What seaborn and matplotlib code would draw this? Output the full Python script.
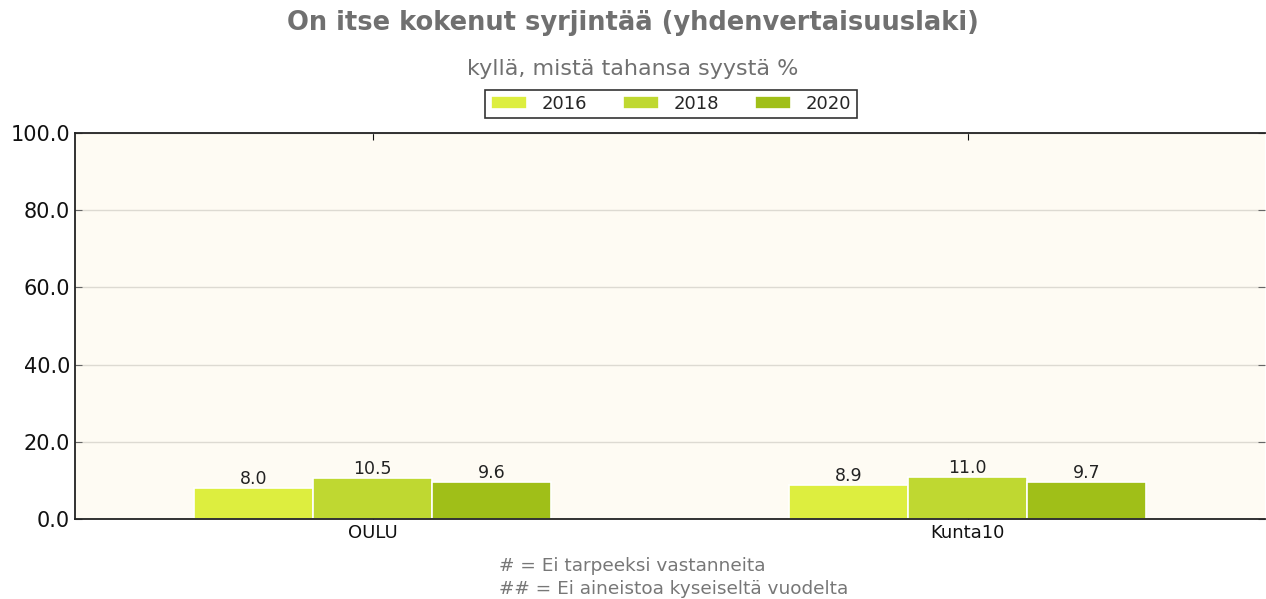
import pandas as pd
import matplotlib.pyplot as plt
import seaborn as sns

# Chart data
areas = ['OULU', 'Kunta10']
years = ['2016', '2018', '2020']
values_2016 = [8.0, 8.9]
values_2018 = [10.5, 11.0]
values_2020 = [9.6, 9.7]
colors = ['#DDEE3F', '#BFD831', '#A0BF18']

df = pd.DataFrame({
    'Alue': areas * 3,
    'Vuosi': [y for y in years for _ in areas],
    'Arvo': values_2016 + values_2018 + values_2020,
})

sns.set_style('white')
plt.rcParams['font.family'] = ['DejaVu Sans']

fig = plt.figure(figsize=(12.66, 5.99), dpi=100)
ax = fig.add_axes([75 / 1266, 80 / 599, 1190 / 1266, 386 / 599])
ax.set_facecolor('#FEFBF3')

sns.barplot(data=df, x='Alue', y='Arvo', hue='Vuosi', palette=colors, saturation=1,
            width=0.6, edgecolor='white', linewidth=1.2, ax=ax, legend=True)

for cont in ax.containers:
    ax.bar_label(cont, fmt='%.1f', fontsize=12.5, color='#222222', padding=0)

ax.set_xlim(-0.5, 1.5)
ax.set_ylim(0, 100)
ax.set_yticks([0, 20, 40, 60, 80, 100])
ax.set_yticklabels([f'{v:.1f}' for v in [0, 20, 40, 60, 80, 100]], fontsize=15, color='#111111')
ax.tick_params(axis='x', labelsize=13, colors='#111111', direction='in', top=True, bottom=True, length=5)
ax.tick_params(axis='y', direction='in', left=True, right=True, length=5, color='#666666')
ax.set_xlabel('')
ax.set_ylabel('')
ax.yaxis.grid(True, color='#DDDAD2', linewidth=1)
ax.set_axisbelow(True)
for side in ['left', 'bottom', 'top']:
    ax.spines[side].set_color('#222222')
    ax.spines[side].set_linewidth(1.3)
ax.spines['right'].set_visible(False)

ax.legend(loc='center', bbox_to_anchor=(671 / 1266, 1 - 104 / 599), bbox_transform=fig.transFigure,
          ncol=3, frameon=True, fancybox=False, edgecolor='black', fontsize=13,
          handlelength=2.0, handleheight=0.7, columnspacing=2.0, borderpad=0.3, handletextpad=0.8)
ax.get_legend().get_frame().set_linewidth(1.2)

fig.text(0.5, 1 - 23 / 599, 'On itse kokenut syrjintää (yhdenvertaisuuslaki)', ha='center', va='center',
         fontsize=18.5, fontweight='bold', color='#707070')
fig.text(0.5, 1 - 69 / 599, 'kyllä, mistä tahansa syystä %', ha='center', va='center',
         fontsize=16, color='#707070')
fig.text(499 / 1266, 1 - 566 / 599, '# = Ei tarpeeksi vastanneita', ha='left', va='center',
         fontsize=13.3, color='#777777')
fig.text(499 / 1266, 1 - 589 / 599, '## = Ei aineistoa kyseiseltä vuodelta', ha='left', va='center',
         fontsize=13.3, color='#777777')

fig.savefig('out.png', dpi=100)
